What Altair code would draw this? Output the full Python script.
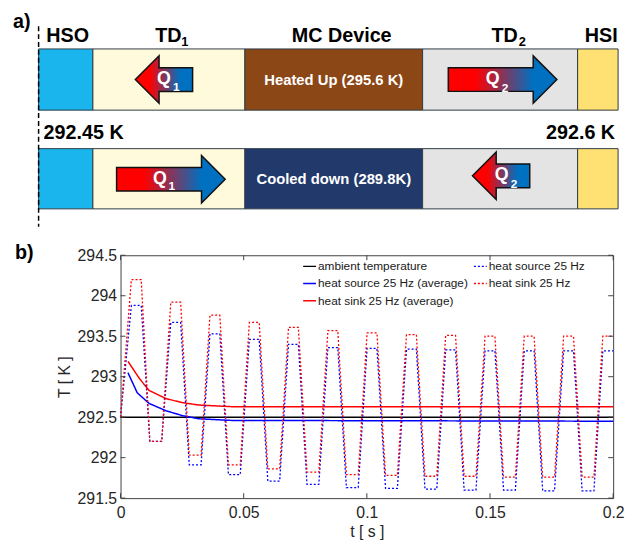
import altair as alt
import pandas as pd

FONT = "Liberation Sans"

# ---------------- panel b) data (read from the reference) ----------------
t_osc = [0.0, 0.0044, 0.0084, 0.0119, 0.0167, 0.0204, 0.0244, 0.0279, 0.0327,
         0.0363, 0.0403, 0.0438, 0.0486, 0.0523, 0.0563, 0.0598, 0.0646,
         0.0682, 0.0722, 0.0757, 0.0805, 0.0842, 0.0882, 0.0917, 0.0965,
         0.1001, 0.1041, 0.1076, 0.1124, 0.1161, 0.1201, 0.1236, 0.1284,
         0.1320, 0.1360, 0.1395, 0.1443, 0.1480, 0.1520, 0.1555, 0.1603,
         0.1639, 0.1679, 0.1714, 0.1762, 0.1799, 0.1839, 0.1874, 0.1922,
         0.1958, 0.2000]
sink_osc = [292.5,
            294.20, 294.20, 292.20, 292.20,
            293.92, 293.92, 292.03, 292.03,
            293.76, 293.76, 291.91, 291.91,
            293.67, 293.67, 291.86, 291.86,
            293.61, 293.61, 291.82, 291.82,
            293.57, 293.57, 291.79, 291.79,
            293.54, 293.54, 291.78, 291.78,
            293.52, 293.52, 291.77, 291.77,
            293.51, 293.51, 291.77, 291.77,
            293.50, 293.50, 291.76, 291.76,
            293.50, 293.50, 291.76, 291.76,
            293.50, 293.50, 291.76, 291.76,
            293.50, 293.50]
source_osc = [292.5,
              293.88, 293.88, 292.20, 292.20,
              293.67, 293.67, 291.91, 291.91,
              293.53, 293.53, 291.79, 291.79,
              293.46, 293.46, 291.71, 291.71,
              293.40, 293.40, 291.67, 291.67,
              293.36, 293.36, 291.63, 291.63,
              293.35, 293.35, 291.62, 291.62,
              293.34, 293.34, 291.61, 291.61,
              293.33, 293.33, 291.60, 291.60,
              293.32, 293.32, 291.60, 291.60,
              293.32, 293.32, 291.59, 291.59,
              293.32, 293.32, 291.59, 291.59,
              293.32, 293.32]
t_sink_avg = [0.003, 0.0076, 0.0116, 0.0184, 0.025, 0.0317, 0.045, 0.2]
sink_avg = [293.19, 292.98, 292.83, 292.73, 292.68, 292.65, 292.63, 292.63]
t_source_avg = [0.003, 0.0068, 0.0116, 0.0184, 0.025, 0.0317, 0.045, 0.2]
source_avg = [293.05, 292.80, 292.67, 292.58, 292.52, 292.48, 292.46, 292.45]
t_amb = [0.0, 0.2]
amb = [292.5, 292.5]

# legend order (filled column by column: left column first)
series_names = ["ambient temperature", "heat source 25 Hz (average)",
                "heat sink 25 Hz (average)", "heat source 25 Hz",
                "heat sink 25 Hz"]
series_colors = ["#000000", "#0000FF", "#FF0000", "#0000FF", "#FF0000"]
series_dashes = [[1, 0], [1, 0], [1, 0], [2, 2], [2, 2]]
x_ticks = [0, 0.05, 0.1, 0.15, 0.2]
y_ticks = [291.5, 292, 292.5, 293, 293.5, 294, 294.5]

# ---------------- panel a) schematic layout ----------------
col_edges = [30, 85, 239, 419, 576, 617]
row_top = [37, 138]
row_bottom = [99, 199]
fills_top = ["#19B5EC", "#FFFADB", "#8C4716", "#E4E4E4", "#FFE072"]
fills_bottom = ["#19B5EC", "#FFFADB", "#22396B", "#E4E4E4", "#FFE072"]

header_labels = ["HSO", "TD", "MC Device", "TD", "HSI"]
header_x = [59.5, 161.5, 337, 502, 600]
header_y = [24, 24, 24, 24, 24]
header_sub = ["1", "2"]
header_sub_x = [178, 520]
header_sub_y = [30, 30]

box_labels = ["Heated Up (295.6 K)", "Cooled down (289.8K)"]
box_label_x = [329, 329]
box_label_y = [69, 169]

temp_left = ["292.45 K"]
temp_right = ["292.6 K"]
temp_left_x = [35]
temp_right_x = [614]
temp_y = [122]

arrow_long_x = [164, 500]
arrow_long_y = [169, 68]
arrow_short_x = [157, 498.5]
arrow_short_y = [68, 165.5]

q_x = [157, 153, 490, 499]
q_y = [68, 169, 68, 165]
q_sub = ["1", "1", "2", "2"]
q_sub_x = [169.5, 165, 502.5, 511.5]
q_sub_y = [76, 176, 77, 174]

dash_x = [30]
dash_y0 = [14]
dash_y1 = [217]

# schematic units: page pixels minus the 8px body margin; the panel window
# runs from unit 113 (left edge of the plot frame below) to 617.
A_X0, A_X1 = 113, 617
W_A, H_A = A_X1 - A_X0, 230
W_B, H_B = 499, 246

# ---------------- build panel a) ----------------
SXa = alt.Scale(domain=[A_X0, A_X1], nice=False, zero=False)
SYa = alt.Scale(domain=[0, H_A], nice=False, zero=False, reverse=True)


def ax(f):
    return alt.X(f, type="quantitative", scale=SXa, axis=None)


def ay(f):
    return alt.Y(f, type="quantitative", scale=SYa, axis=None)


box_rows = []
for r, fills in enumerate([fills_top, fills_bottom]):
    for i in range(5):
        box_rows.append({"x0": col_edges[i], "x1": col_edges[i + 1],
                         "y0": row_top[r], "y1": row_bottom[r], "fill": fills[i]})
boxes_df = pd.DataFrame(box_rows)

boxes = alt.Chart(boxes_df).mark_rect(stroke="#2E3B45", strokeWidth=1).encode(
    x=ax("x0"), x2="x1", y=ay("y0"), y2="y1",
    color=alt.Color("fill:N", scale=None, legend=None))

frame_a = alt.Chart(pd.DataFrame({"x": [A_X1], "y0": [0], "y1": [H_A]})).mark_rule(
    color="white", strokeWidth=1).encode(x=ax("x"), y=ay("y0"), y2="y1")

dash = alt.Chart(pd.DataFrame({"x": dash_x, "y0": dash_y0, "y1": dash_y1})).mark_rule(
    color="black", strokeWidth=1.5, strokeDash=[5, 3]).encode(x=ax("x"), y=ay("y0"), y2="y1")


def text_layer(labels, xs_, ys_, size, color="black", align="center", weight="bold"):
    d = pd.DataFrame({"x": xs_, "y": ys_, "label": labels})
    return alt.Chart(d).mark_text(font=FONT, fontSize=size, fontWeight=weight,
                                  color=color, align=align, baseline="middle").encode(
        x=ax("x"), y=ay("y"), text="label:N")


grad = alt.LinearGradient(
    gradient="linear",
    stops=[alt.GradientStop(color="#FF0000", offset=0),
           alt.GradientStop(color="#FF0000", offset=0.25),
           alt.GradientStop(color="#0070C0", offset=0.78),
           alt.GradientStop(color="#0070C0", offset=1)],
    x1=0, x2=1, y1=0, y2=0)

long_right = "M -1 -0.218 L 0.564 -0.218 L 0.564 -0.436 L 1 0 L 0.564 0.436 L 0.564 0.218 L -1 0.218 Z"
short_left = "M 1 -0.414 L -0.172 -0.414 L -0.172 -0.828 L -1 0 L -0.172 0.828 L -0.172 0.414 L 1 0.414 Z"

arrows_long = alt.Chart(pd.DataFrame({"x": arrow_long_x, "y": arrow_long_y})).mark_point(
    shape=long_right, size=12100, filled=True, fill=grad, stroke="#111111",
    strokeWidth=1.5, opacity=1, fillOpacity=1, strokeOpacity=1).encode(x=ax("x"), y=ay("y"))
arrows_short = alt.Chart(pd.DataFrame({"x": arrow_short_x, "y": arrow_short_y})).mark_point(
    shape=short_left, size=3364, filled=True, fill=grad, stroke="#111111",
    strokeWidth=1.5, opacity=1, fillOpacity=1, strokeOpacity=1).encode(x=ax("x"), y=ay("y"))

top = alt.layer(
    frame_a, boxes, dash, arrows_long, arrows_short,
    text_layer(header_labels, header_x, header_y, 20),
    text_layer(header_sub, header_sub_x, header_sub_y, 13),
    text_layer(box_labels, box_label_x, box_label_y, 15, color="white"),
    text_layer(temp_left, temp_left_x, temp_y, 20, align="left"),
    text_layer(temp_right, temp_right_x, temp_y, 20, align="right"),
    text_layer(["Q"] * 4, q_x, q_y, 18, color="white"),
    text_layer(q_sub, q_sub_x, q_sub_y, 12, color="white"),
    text_layer(["a)"], [4], [10], 20, align="left"),
).properties(width=W_A, height=H_A, view=alt.ViewBackground(stroke=None))

# ---------------- build panel b) ----------------
rows = []
for name, ts, vs in [("ambient temperature", t_amb, amb),
                     ("heat source 25 Hz (average)", t_source_avg, source_avg),
                     ("heat sink 25 Hz (average)", t_sink_avg, sink_avg),
                     ("heat source 25 Hz", t_osc, source_osc),
                     ("heat sink 25 Hz", t_osc, sink_osc)]:
    for t, v in zip(ts, vs):
        rows.append({"series": name, "t": t, "T": v})
df = pd.DataFrame(rows)

xs = alt.Scale(domain=[0, 0.2], nice=False, zero=False)
ys = alt.Scale(domain=[291.5, 294.5], nice=False, zero=False)
x_axis = alt.Axis(values=x_ticks, format="~g", ticks=False, tickSize=0, domain=False,
                  grid=False, labelFlush=False, labelOverlap=False, labelFont=FONT,
                  labelFontSize=16, labelColor="#262626", labelPadding=7,
                  title="t [ s ]", titleFont=FONT, titleFontSize=16,
                  titleFontWeight="normal", titleColor="#262626", titlePadding=3)
y_axis = alt.Axis(values=y_ticks, format="~g", ticks=False, tickSize=0, domain=False,
                  grid=False, labelFlush=False, labelOverlap=False, labelFont=FONT,
                  labelFontSize=16, labelColor="#262626", labelPadding=4,
                  title="T [ K ]", titleFont=FONT, titleFontSize=16,
                  titleFontWeight="normal", titleColor="#262626", titlePadding=5)
legend = alt.Legend(title=None, orient="none", legendX=184, legendY=3.5, columns=2,
                    symbolType="stroke", symbolSize=169, symbolStrokeWidth=1.5,
                    labelFont=FONT, labelFontSize=12, labelColor="#1a1a1a",
                    labelOffset=1, columnPadding=2, rowPadding=3.5, padding=0,
                    labelLimit=300)
color_scale = alt.Scale(domain=series_names, range=series_colors)
dash_scale = alt.Scale(domain=series_names, range=series_dashes)


def line_layer(name, width):
    return alt.Chart(df).transform_filter(alt.datum.series == name).mark_line(
        strokeWidth=width).encode(
        x=alt.X("t:Q", scale=xs, axis=x_axis),
        y=alt.Y("T:Q", scale=ys, axis=y_axis),
        color=alt.Color("series:N", scale=color_scale, legend=legend),
        strokeDash=alt.StrokeDash("series:N", scale=dash_scale, legend=legend))


xt = pd.DataFrame({"t": x_ticks})
yt = pd.DataFrame({"T": y_ticks})
tick_col = "#404040"
tb = alt.Chart(xt).mark_rule(color=tick_col, strokeWidth=1).encode(
    x=alt.X("t:Q", scale=xs, axis=x_axis), y=alt.value(H_B), y2=alt.value(H_B - 5))
tt = alt.Chart(xt).mark_rule(color=tick_col, strokeWidth=1).encode(
    x=alt.X("t:Q", scale=xs, axis=x_axis), y=alt.value(0), y2=alt.value(5))
tl = alt.Chart(yt).mark_rule(color=tick_col, strokeWidth=1).encode(
    y=alt.Y("T:Q", scale=ys, axis=y_axis), x=alt.value(0), x2=alt.value(5))
tr = alt.Chart(yt).mark_rule(color=tick_col, strokeWidth=1).encode(
    y=alt.Y("T:Q", scale=ys, axis=y_axis), x=alt.value(W_B), x2=alt.value(W_B - 5))

b_label = alt.Chart(pd.DataFrame({"label": ["b)"]})).mark_text(
    font=FONT, fontSize=20, fontWeight="bold", color="black", align="left",
    baseline="middle").encode(text="label:N", x=alt.value(-107), y=alt.value(-2.5))
align_rule = alt.Chart(pd.DataFrame({"a": [0]})).mark_rule(color="white").encode(
    x=alt.value(-113), y=alt.value(-2), y2=alt.value(0))

bottom = alt.layer(
    line_layer("ambient temperature", 1.5),
    line_layer("heat source 25 Hz (average)", 1.5),
    line_layer("heat sink 25 Hz (average)", 1.5),
    line_layer("heat source 25 Hz", 1.3),
    line_layer("heat sink 25 Hz", 1.3),
    tb, tt, tl, tr, b_label, align_rule,
).properties(width=W_B, height=H_B,
             view=alt.ViewBackground(stroke="#404040", strokeWidth=1))

chart = alt.vconcat(top, bottom, spacing=2).resolve_scale(
    color="independent", strokeDash="independent").resolve_legend(
    color="independent", strokeDash="independent").properties(padding=0).configure(
    font=FONT).configure_view(stroke=None)

chart.save("out.html", embed_options={"renderer": "svg", "actions": False})
